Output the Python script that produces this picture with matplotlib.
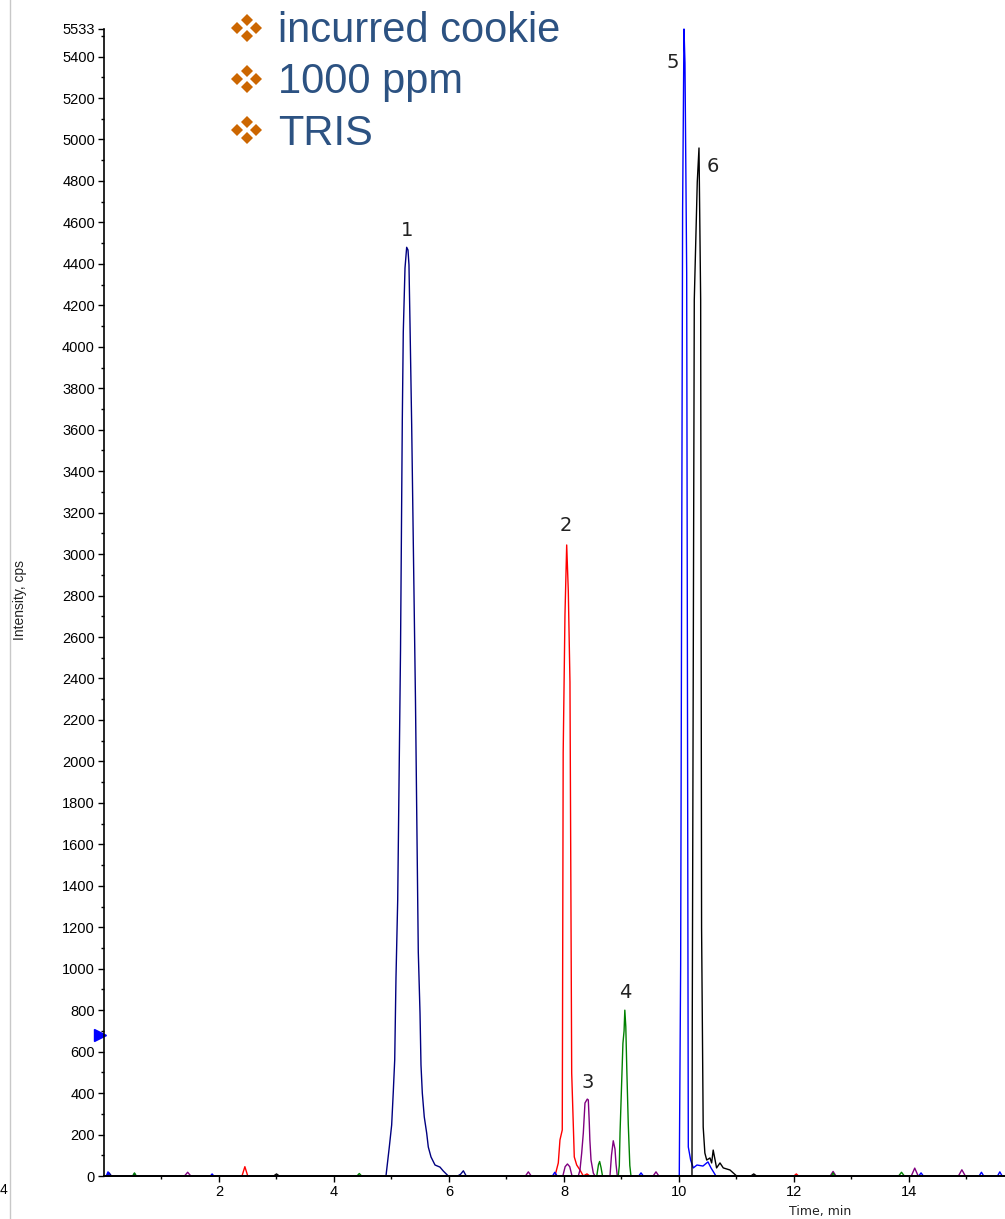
import matplotlib
matplotlib.use("Agg")
import matplotlib.pyplot as plt
from matplotlib.ticker import FixedLocator
from matplotlib.lines import Line2D

# chromatogram traces (time in min, intensity in cps)
t_navy = [0.0, 0.05, 0.09, 0.13, 0.50, 0.53, 0.56, 0.60, 4.904, 4.962, 5.003, 5.031,
          5.056, 5.078, 5.108, 5.157, 5.188, 5.205, 5.235, 5.264, 5.287, 5.304, 5.322,
          5.351, 5.369, 5.417, 5.466, 5.496, 5.513, 5.536, 5.570, 5.612, 5.640, 5.687,
          5.757, 5.843, 5.901, 5.988, 6.15, 6.20, 6.25, 6.30, 15.7]
i_navy = [0, 0, 15, 0, 0, 12, 0, 0, 0, 140, 246, 405,
          560, 955, 1331, 2537, 3647, 4071, 4380, 4480, 4467, 4395, 4110,
          3623, 3261, 2296, 1081, 786, 535, 400, 285, 207, 140, 92,
          53, 43, 24, 0, 0, 8, 25, 0, 0]

t_red = [0.0, 2.40, 2.45, 2.50, 7.843, 7.901, 7.930, 7.970, 7.986, 8.017, 8.047,
         8.075, 8.104, 8.134, 8.162, 8.179, 8.221, 8.278, 8.336, 8.40, 8.45, 8.50,
         12.00, 12.04, 12.08, 15.7]
i_red = [0, 0, 45, 0, 0, 63, 174, 222, 2041, 2706, 3044,
         2822, 2383, 497, 246, 92, 53, 29, 0, 10, 0, 0,
         0, 10, 0, 0]

t_purple = [0.0, 1.40, 1.455, 1.51, 7.33, 7.38, 7.43, 7.98, 8.02, 8.06, 8.10, 8.14,
            8.249, 8.278, 8.308, 8.336, 8.365, 8.405, 8.423, 8.440, 8.450, 8.470, 8.510,
            8.539, 8.80, 8.826, 8.857, 8.887, 8.904, 8.927, 9.55, 9.60, 9.65, 12.63,
            12.68, 12.73, 14.04, 14.10, 14.16, 14.86, 14.92, 14.98, 15.7]
i_purple = [0, 0, 18, 0, 0, 20, 0, 0, 45, 58, 45, 0,
            0, 29, 111, 207, 352, 371, 367, 256, 174, 77, 14,
            0, 0, 100, 170, 130, 60, 0, 0, 20, 0, 0,
            22, 0, 0, 38, 0, 0, 30, 0, 0]

t_green = [0.0, 0.50, 0.53, 0.56, 4.40, 4.44, 4.48, 8.57, 8.60, 8.62, 8.645, 8.67,
           8.944, 8.962, 8.975, 9.025, 9.045, 9.058, 9.075, 9.092, 9.118, 9.145, 9.165,
           12.65, 12.68, 12.71, 13.82, 13.87, 13.92, 15.7]
i_green = [0, 0, 15, 0, 0, 12, 0, 0, 55, 70, 40, 0,
           0, 50, 210, 640, 700, 800, 720, 520, 250, 50, 0,
           0, 15, 0, 0, 18, 0, 0]

t_blue = [0.0, 0.04, 0.07, 0.10, 1.85, 1.88, 1.91, 7.80, 7.84, 7.88, 9.30, 9.34, 9.38,
          10.005, 10.029, 10.063, 10.087, 10.104, 10.134, 10.162, 10.203, 10.249, 10.313,
          10.417, 10.504, 10.557, 10.643, 14.17, 14.21, 14.25, 15.22, 15.26, 15.30,
          15.54, 15.58, 15.62, 15.7]
i_blue = [0, 0, 20, 0, 0, 10, 0, 0, 18, 0, 0, 15, 0,
          0, 1018, 4660, 5533, 5369, 4356, 140, 77, 39, 53,
          48, 68, 39, 0, 0, 15, 0, 0, 18, 0,
          0, 20, 0, 0]

t_black = [0.0, 2.95, 3.00, 3.05, 10.226, 10.231, 10.266, 10.318, 10.348, 10.377,
           10.393, 10.421, 10.450, 10.482, 10.539, 10.568, 10.595, 10.654, 10.713,
           10.770, 10.887, 11.003, 11.25, 11.30, 11.35, 15.7]
i_black = [0, 0, 10, 0, 0, 762, 4226, 4795, 4959, 4226,
           1196, 236, 111, 77, 87, 63, 125, 39, 63,
           39, 29, 0, 0, 10, 0, 0]

# peak numbers (label centres)
peak_names = ["1", "2", "3", "4", "5", "6"]
peak_t = [5.27, 8.03, 8.42, 9.06, 9.90, 10.585]
peak_i = [4563, 3140, 449, 885, 5373, 4872]

bullets = ["incurred cookie", "1000 ppm", "TRIS"]

W, H = 1005, 1219
fig = plt.figure(figsize=(W / 100, H / 100), dpi=100)
ax = fig.add_axes([104 / W, (H - 1176) / H, (W - 104) / W, (1176 - 29) / H])

traces = [(t_navy, i_navy, "#000080"), (t_red, i_red, "#ff0000"),
          (t_purple, i_purple, "#800080"), (t_green, i_green, "#008000"),
          (t_blue, i_blue, "#0000ff"), (t_black, i_black, "#000000")]
for t, i, c in traces:
    ax.plot(t, i, color=c, lw=1.0, clip_on=False)

for n, x, y in zip(peak_names, peak_t, peak_i):
    ax.text(x, y, n, fontsize=14, ha="center", va="center", color="#222222",
            family="DejaVu Sans")

# marker on the y axis
ax.plot([-0.07], [680], marker=">", color="#0000ff", ms=8, clip_on=False)

ax.set_xlim(0, 15.67)
ax.set_ylim(0, 5533)
ax.yaxis.set_major_locator(FixedLocator(list(range(0, 5401, 200)) + [5533]))
ax.yaxis.set_minor_locator(FixedLocator(list(range(100, 5501, 200))))
ax.xaxis.set_major_locator(FixedLocator([2, 4, 6, 8, 10, 12, 14]))
ax.xaxis.set_minor_locator(FixedLocator([1, 3, 5, 7, 9, 11, 13, 15]))
ax.tick_params(which="major", direction="out", length=4.5, width=1, pad=2,
               labelsize=10.5, labelfontfamily="Liberation Sans")
ax.tick_params(which="minor", direction="out", length=2.5, width=1)
for s in ["top", "right"]:
    ax.spines[s].set_visible(False)
ax.spines["left"].set_linewidth(1.2)
ax.spines["bottom"].set_linewidth(1.4)

fig.text(20 / W, 1 - 600 / H, "Intensity, cps", rotation=90, ha="center", va="center",
         fontsize=10, family="Liberation Sans", color="#222222")
fig.text(820 / W, 1 - 1211 / H, "Time, min", ha="center", va="center",
         fontsize=9, family="DejaVu Sans", color="#222222")

# bullet list top: four small orange diamonds + text
for k, s in enumerate(bullets):
    yc = 27.5 + 51.3 * k
    for dx, dy in [(0, -8), (-9.3, 0), (9.3, 0), (0, 8)]:
        fig.add_artist(Line2D([(246.7 + dx) / W], [1 - (yc + dy) / H], marker="D",
                              ms=6, mew=0, color="#cc6600", linestyle="none"))
    fig.text(278 / W, 1 - (yc + 14.5) / H, s, ha="left", va="baseline",
             fontsize=30, family="Liberation Sans", color="#2c5282")

# grey border of the neighbouring panel on the far left
fig.add_artist(Line2D([10 / W, 10 / W], [0, 1], color="#c8c8c8", lw=1))
fig.text(0 / W, 1 - 1190 / H, "4", ha="left", va="center", fontsize=10,
         family="Liberation Sans")

fig.savefig("out.png", dpi=100)
